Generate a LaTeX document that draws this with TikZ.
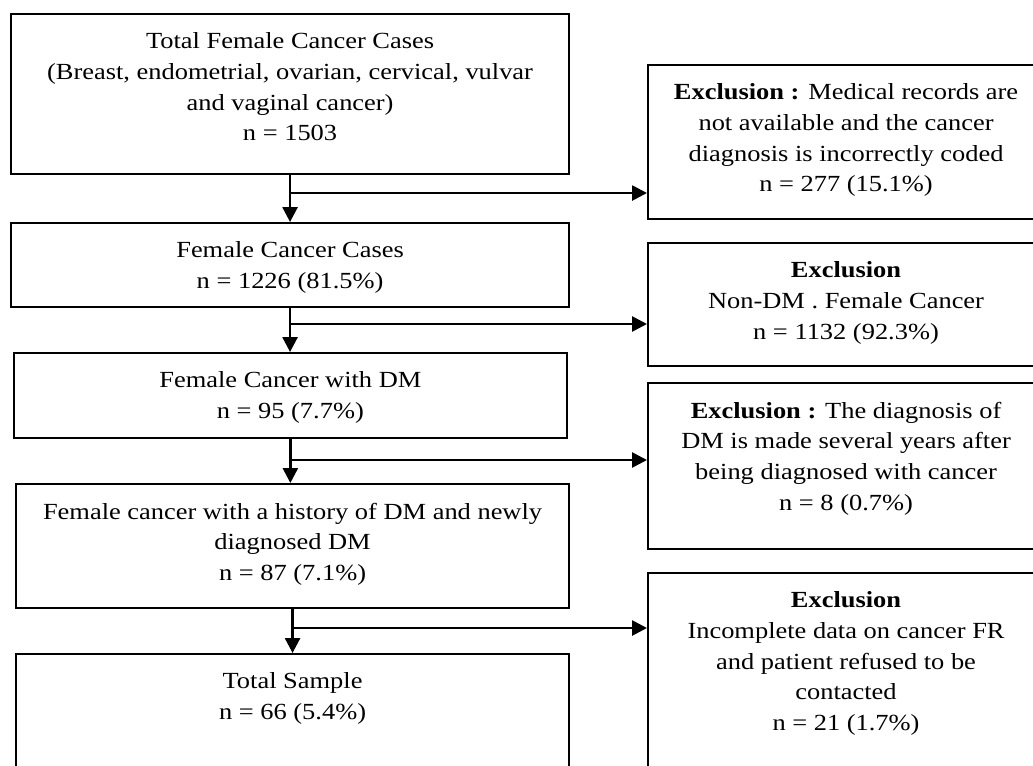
\documentclass[tikz,border=0pt]{standalone}
\usepackage{fontspec}
\setmainfont{Liberation Serif}[FakeStretch=1.146]
\usetikzlibrary{arrows.meta,positioning}

\begin{document}
\begin{tikzpicture}[x=0.025cm,y=-0.025cm,
    box/.style={draw,line width=1.4pt,anchor=north west,inner sep=0pt},
    txt/.style={align=center,inner sep=0pt,font=\fontsize{16.4}{21.8}\selectfont},
    arr/.style={line width=1.9pt,-{Triangle[length=10.5pt,width=10.5pt]}}]
    % Frame (boxes run past the edges)
    \path[use as bounding box] (0,0) rectangle (1033,765);
    \clip (0,0) rectangle (1033,765);
    % Left column
    \node[box,minimum width=13.95cm,minimum height=4cm] (total) at (10,13) {};
    \node[box,minimum width=13.95cm,minimum height=2.1cm] (cases) at (10,222) {};
    \node[box,minimum width=13.835cm,minimum height=2.125cm] (withdm) at (12.6,352) {};
    \node[box,minimum width=13.825cm,minimum height=3.1cm] (history) at (15,483) {};
    \node[box,minimum width=13.825cm,minimum height=3.5cm] (sample) at (15,653) {};
    % Right column
    \node[box,minimum width=9.9cm,minimum height=3.85cm] (excA) at (647,64) {};
    \node[box,minimum width=9.9cm,minimum height=3.075cm] (excB) at (647,242) {};
    \node[box,minimum width=9.9cm,minimum height=4.15cm] (excC) at (647,382) {};
    \node[box,minimum width=9.9cm,minimum height=6.25cm] (excD) at (647,572) {};
    % Texts
    \node[txt,below=14pt of total.north] (totalT) {Total Female Cancer Cases\\(Breast, endometrial, ovarian, cervical, vulvar\\and vaginal cancer)\\n = 1503};
    \node[txt,below=14pt of cases.north] (casesT) {Female Cancer Cases\\n = 1226 (81.5\%)};
    \node[txt,below=14pt of withdm.north] (withdmT) {Female Cancer with DM\\n = 95 (7.7\%)};
    \node[txt,below=14pt of history.north] (historyT) {Female cancer with a history of DM and newly\\diagnosed DM\\n = 87 (7.1\%)};
    \node[txt,below=14pt of sample.north] (sampleT) {Total Sample\\n = 66 (5.4\%)};
    \node[txt,below=14pt of excA.north] (excAT) {\textbf{Exclusion :} Medical records are\\not available and the cancer\\diagnosis is incorrectly coded\\n = 277 (15.1\%)};
    \node[txt,below=14pt of excB.north] (excBT) {\textbf{Exclusion}\\Non-DM . Female Cancer\\n = 1132 (92.3\%)};
    \node[txt,below=14pt of excC.north] (excCT) {\textbf{Exclusion :} The diagnosis of\\DM is made several years after\\being diagnosed with cancer\\n = 8 (0.7\%)};
    \node[txt,below=14pt of excD.north] (excDT) {\textbf{Exclusion}\\Incomplete data on cancer FR\\and patient refused to be\\contacted\\n = 21 (1.7\%)};
    % Junctions
    \path (total.south) ++(0,18) coordinate (j1);
    \path (cases.south) ++(0,16) coordinate (j2);
    \path (withdm.south) ++(0,21) coordinate (j3);
    \path (history.south) ++(0,19) coordinate (j4);
    % Arrows down
    \draw[arr] (total.south) -- (total.south |- cases.north);
    \draw[arr] (cases.south) -- (cases.south |- withdm.north);
    \draw[arr] (withdm.south) -- (withdm.south |- history.north);
    \draw[arr] (history.south) -- (history.south |- sample.north);
    % Arrows right
    \draw[arr] (j1) -- (j1 -| excA.west);
    \draw[arr] (j2) -- (j2 -| excB.west);
    \draw[arr] (j3) -- (j3 -| excC.west);
    \draw[arr] (j4) -- (j4 -| excD.west);
\end{tikzpicture}
\end{document}
